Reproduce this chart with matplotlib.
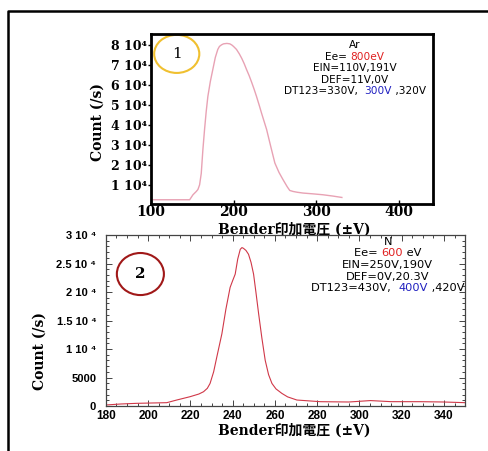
import matplotlib
matplotlib.use('Agg')
import matplotlib.pyplot as plt
from matplotlib.patches import Ellipse
from matplotlib.lines import Line2D
from matplotlib.offsetbox import TextArea, HPacker, AnnotationBbox
from matplotlib.ticker import MultipleLocator

# top panel: Ar, Ee = 800 eV
ar_v = [103, 147, 151, 155, 157, 159, 161, 163, 165, 167, 169, 172, 175, 178, 181, 183, 185.5,
        188, 192, 195.5, 198, 200, 203.6, 207, 210, 213, 215.7, 219, 222, 225, 227.8, 231, 234,
        237, 240, 245, 250, 255, 260, 265, 268, 272, 277, 284, 296, 308, 320, 331]
ar_cnt = [2850, 2850, 5350, 7000, 8000, 10300, 16000, 28000, 38000, 47000, 54500, 62000, 68000,
          74000, 78000, 79500, 80300, 80800, 81000, 80800, 80200, 79500, 78000, 75800, 73500,
          70800, 68000, 64800, 61500, 58000, 54500, 50200, 46000, 42000, 38000, 29500, 21200,
          16500, 12800, 9300, 7500, 7000, 6600, 6200, 5800, 5350, 4700, 4000]
ar_yticks = [1e4, 2e4, 3e4, 4e4, 5e4, 6e4, 7e4, 8e4]
ar_xticks = [100, 200, 300, 400]

# bottom panel: N, Ee = 600 eV
n_v = [180, 187, 194.5, 201, 208.8, 213.5, 219.8, 224, 226.2, 228, 229.3, 231, 232.5, 234.9,
       236.8, 238.8, 240, 241.2, 242.4, 243.6, 244.4, 245.1, 246.3, 247.5, 248.7, 249.9, 251,
       252.3, 253.8, 255.4, 257, 258.6, 260.5, 263.3, 266, 270.4, 281.5, 295, 305.2, 315, 329,
       340, 350]
n_cnt = [174, 350, 465, 520, 581, 1046, 1628, 2100, 2500, 3100, 3953, 6000, 8605, 12674, 17000,
         20814, 22000, 23140, 25800, 27500, 27800, 27674, 27300, 26628, 25200, 23140, 20000,
         16163, 12000, 8023, 5500, 3953, 3000, 2209, 1600, 1046, 756, 700, 950, 760, 756, 700,
         581]
n_yticks = [0, 5000, 10000, 15000, 20000, 25000, 30000]
n_ylabels = ['0', '5000', '1 10 \u2074', '1.5 10 \u2074', '2 10 \u2074', '2.5 10 \u2074',
             '3 10 \u2074']

serif = ['DejaVu Serif', 'Noto Sans CJK JP']
sans = ['Liberation Sans', 'DejaVu Sans']
xlab = 'Bender印加電圧 (±V)'

fig = plt.figure(figsize=(4.88, 4.51), dpi=100)
fig.add_artist(Line2D([8 / 488, 8 / 488, 1], [0, 1 - 10.5 / 451, 1 - 10.5 / 451],
                      color='black', lw=1.8))

# ---- top
ax1 = fig.add_axes([0.309, 0.548, 0.578, 0.377])
ax1.plot(ar_v, ar_cnt, color='#e8a2b4', lw=1.0)
ax1.set_xlim(100, 441)
ax1.set_ylim(800, 85800)
ax1.set_xticks(ar_xticks)
ax1.set_xticklabels([str(t) for t in ar_xticks], family=serif, fontsize=10, fontweight='bold')
ax1.set_yticks(ar_yticks)
ax1.set_yticklabels(['%d 10\u2074' % (t / 1e4) for t in ar_yticks], family=serif,
                    fontsize=9, fontweight='bold')
ax1.tick_params(axis='x', direction='in', length=3, width=1, pad=1)
ax1.tick_params(axis='y', direction='out', length=2, width=1, pad=1)
for s in ax1.spines.values():
    s.set_linewidth(2)
ax1.set_ylabel('Count (/s)', family=serif, fontsize=10, fontweight='bold')
ax1.yaxis.set_label_coords(-0.163, 0.484)
ax1.set_xlabel(xlab, family=serif, fontsize=10, fontweight='bold', va='center')
ax1.xaxis.set_label_coords(0.507, -0.152)
ax1.add_patch(Ellipse((0.092, 0.882), 0.16, 0.224, transform=ax1.transAxes,
                      fill=False, edgecolor='#f0c030', lw=1.5, clip_on=False))
ax1.text(0.092, 0.882, '1', transform=ax1.transAxes, ha='center', va='center',
         family=serif, fontsize=11)


def info(ax, x, y, parts, size):
    items = [TextArea(t, textprops=dict(color=c, family='DejaVu Sans', fontsize=size))
             for t, c in parts]
    box = HPacker(children=items, align='baseline', pad=0, sep=0)
    ab = AnnotationBbox(box, (x, y), xycoords='axes fraction', box_alignment=(0.5, 0.5),
                        frameon=False, pad=0)
    ax.add_artist(ab)


k = 'black'
info(ax1, 0.723, 0.935, [('Ar', k)], 7.6)
info(ax1, 0.723, 0.866, [('Ee= ', k), ('800eV', '#e02020')], 7.6)
info(ax1, 0.723, 0.798, [('EIN=110V,191V', k)], 7.6)
info(ax1, 0.723, 0.730, [('DEF=11V,0V', k)], 7.6)
info(ax1, 0.723, 0.662, [('DT123=330V,  ', k), ('300V', '#2020c0'), (' ,320V', k)], 7.6)

# ---- bottom
ax2 = fig.add_axes([0.217, 0.0998, 0.736, 0.379])
ax2.plot(n_v, n_cnt, color='#d03848', lw=0.8)
ax2.set_xlim(180, 350)
ax2.set_ylim(0, 30000)
ax2.xaxis.set_major_locator(MultipleLocator(20))
ax2.xaxis.set_minor_locator(MultipleLocator(5))
ax2.yaxis.set_minor_locator(MultipleLocator(1000))
ax2.set_yticks(n_yticks)
ax2.set_yticklabels(n_ylabels, family=sans, fontsize=8, fontweight='bold')
for lab in ax2.get_xticklabels():
    lab.set_family(sans)
    lab.set_fontsize(8.5)
    lab.set_fontweight('bold')
ax2.tick_params(which='both', direction='in', top=True, right=True, color='#444444', width=0.7)
ax2.tick_params(which='major', length=4)
ax2.tick_params(which='minor', length=2)
ax2.tick_params(axis='y', pad=7)
ax2.tick_params(axis='x', pad=3)
for s in ax2.spines.values():
    s.set_linewidth(0.9)
    s.set_color('#444444')
ax2.set_ylabel('Count (/s)', family=serif, fontsize=10, fontweight='bold')
ax2.yaxis.set_label_coords(-0.164, 0.323)
ax2.set_xlabel(xlab, family=serif, fontsize=10, fontweight='bold', va='center')
ax2.xaxis.set_label_coords(0.524, -0.146)
ax2.add_patch(Ellipse((0.096, 0.772), 0.131, 0.246, transform=ax2.transAxes,
                      fill=False, edgecolor='#a01818', lw=1.5))
ax2.text(0.096, 0.772, '2', transform=ax2.transAxes, ha='center', va='center',
         family=serif, fontsize=11, fontweight='bold')

info(ax2, 0.785, 0.959, [('N', k)], 8.2)
info(ax2, 0.785, 0.893, [('Ee= ', k), ('600', '#e02020'), (' eV', k)], 8.2)
info(ax2, 0.785, 0.825, [('EIN=250V,190V', k)], 8.2)
info(ax2, 0.785, 0.756, [('DEF=0V,20.3V', k)], 8.2)
info(ax2, 0.785, 0.688, [('DT123=430V,  ', k), ('400V', '#2020c0'), (' ,420V', k)], 8.2)

fig.savefig('out.png', dpi=100)
